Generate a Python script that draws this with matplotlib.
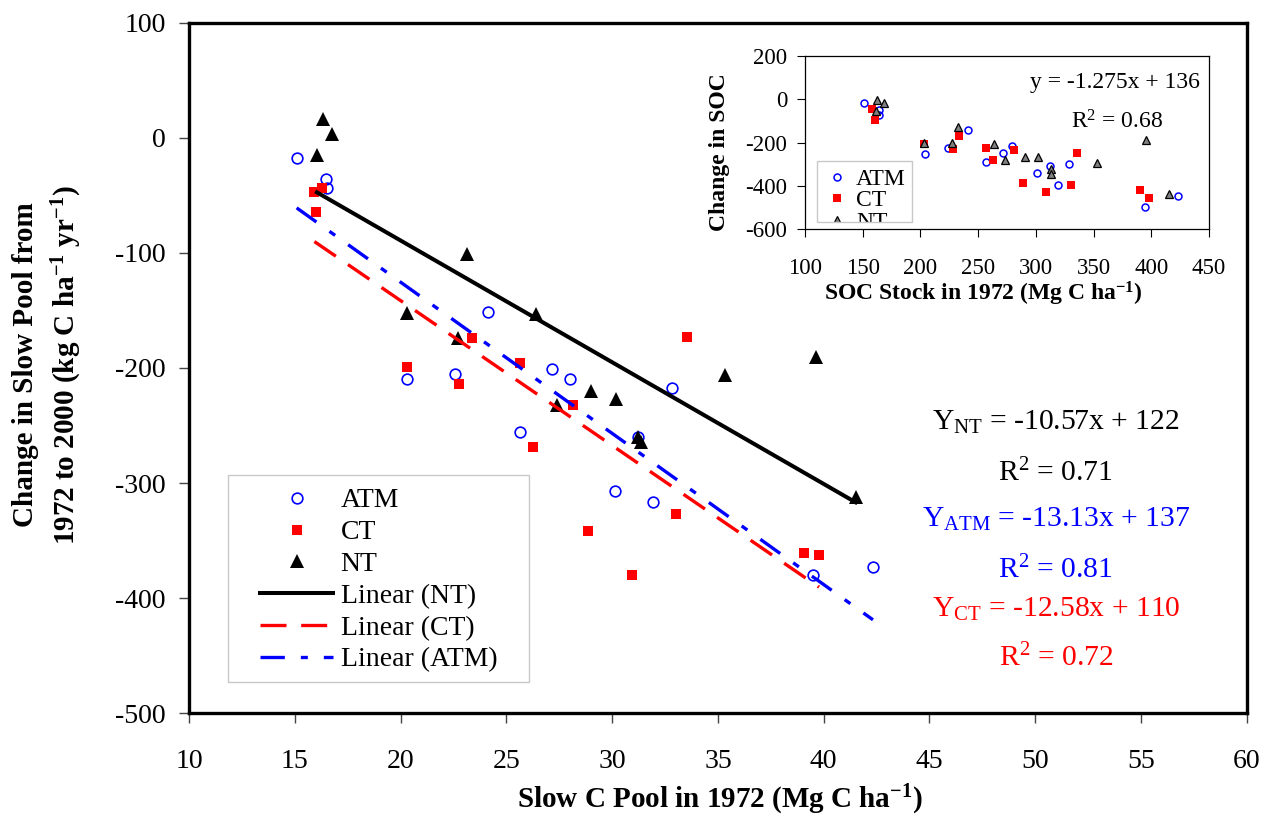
import numpy as np
import matplotlib
matplotlib.use('Agg')
import matplotlib.pyplot as plt
from matplotlib.patches import Rectangle
from matplotlib.transforms import Bbox, TransformedBbox

plt.rcParams['font.family'] = ['Liberation Serif', 'DejaVu Serif']
plt.rcParams['mathtext.fontset'] = 'custom'
plt.rcParams['mathtext.rm'] = 'Liberation Serif'
plt.rcParams['mathtext.bf'] = 'Liberation Serif:bold'
plt.rcParams['mathtext.it'] = 'Liberation Serif:italic'
plt.rcParams['axes.unicode_minus'] = False

# main panel: slow C pool in 1972 (Mg C/ha) vs change in slow pool (kg C/ha/yr)
atm_x = [15.08, 16.45, 16.50, 24.11, 20.31, 22.57, 27.17, 27.99, 25.64, 32.84,
         31.23, 30.13, 31.94, 39.49, 42.33]
atm_y = [-17.5, -35.7, -43.8, -151.2, -209.7, -205.6, -201.0, -209.4, -255.5, -217.8,
         -259.8, -306.9, -316.8, -379.9, -373.0]
ct_x = [15.92, 16.26, 16.00, 20.31, 23.36, 22.74, 25.64, 28.16, 26.27, 33.55,
        28.87, 30.95, 33.02, 39.07, 39.78]
ct_y = [-47.0, -44.0, -64.9, -199.0, -174.3, -214.3, -195.5, -232.5, -268.5, -172.9,
        -341.4, -379.9, -326.7, -360.8, -362.6]
nt_x = [16.04, 16.31, 16.77, 23.15, 20.28, 22.69, 26.40, 27.38, 29.00, 30.18,
        31.22, 31.36, 35.33, 39.64, 41.51]
nt_y = [-15.1, 15.9, 2.9, -101.4, -152.1, -174.1, -153.2, -232.3, -220.1, -226.8,
        -260.1, -264.5, -206.3, -190.6, -311.9]

# fitted trend lines as printed on the chart
fit_slope = {'NT': -10.57, 'ATM': -13.13, 'CT': -12.58}
fit_icept = {'NT': 122, 'ATM': 137, 'CT': 110}
eq_text = [r'Y$_{\mathrm{NT}}$ = -10.57x + 122', r'R$^{2}$ = 0.71',
           r'Y$_{\mathrm{ATM}}$ = -13.13x + 137', r'R$^{2}$ = 0.81',
           r'Y$_{\mathrm{CT}}$ = -12.58x + 110', r'R$^{2}$ = 0.72']
eq_color = ['black', 'black', 'blue', 'blue', 'red', 'red']

# inset: SOC stock in 1972 vs change in SOC
in_atm_x = [150.7, 163.7, 164.3, 203.6, 224.0, 241.3, 256.4, 271.3, 279.3, 300.7,
            312.4, 318.9, 328.8, 394.7, 423.1]
in_atm_y = [-17.2, -49.3, -70.7, -254.0, -226.8, -139.6, -289.5, -246.6, -217.6, -341.5,
            -306.3, -393.5, -298.6, -499.0, -445.5]
in_ct_x = [158.1, 160.6, 203.3, 228.6, 233.3, 256.4, 263.3, 281.2, 289.2, 309.0,
           330.7, 335.6, 390.0, 398.0]
in_ct_y = [-44.7, -95.2, -208.4, -228.3, -167.1, -226.8, -280.3, -235.9, -384.3, -428.7,
           -395.0, -246.6, -419.5, -456.2]
in_nt_x = [162.5, 168.3, 161.5, 202.7, 227.4, 232.3, 263.9, 273.5, 290.2, 301.6,
           313.3, 313.3, 352.9, 395.6, 415.4]
in_nt_y = [-3.0, -17.2, -55.4, -200.8, -200.8, -128.9, -208.4, -278.8, -266.5, -266.5,
           -323.1, -343.0, -294.0, -190.0, -434.8]

W, H = 1266, 819


def fx(px):
    return px / W


def fy(py):
    return 1 - py / H


fig = plt.figure(figsize=(W / 100, H / 100), dpi=100)
ax = fig.add_axes([fx(189.2), fy(713.3), (1246.7 - 189.2) / W, (713.3 - 22.5) / H])

ax.plot(atm_x, atm_y, 'o', ms=7.7, mfc='none', mec='blue', mew=1.2, label='ATM', zorder=3)
ax.plot(ct_x, ct_y, 's', ms=7.6, mfc='red', mec='red', mew=0, label='CT', zorder=3)
ax.plot(nt_x, nt_y, '^', ms=10, mfc='black', mec='black', mew=0, label='NT', zorder=3)

xs = np.array([min(nt_x), max(nt_x)])
ax.plot(xs, fit_slope['NT'] * xs + fit_icept['NT'], color='black', lw=2.9,
        label='Linear (NT)', zorder=4)
xs = np.array([min(ct_x), max(ct_x)])
ax.plot(xs, fit_slope['CT'] * xs + fit_icept['CT'], color='red', lw=2.4,
        ls=(0, (7.8, 4.4)), label='Linear (CT)', zorder=4)
xs = np.array([min(atm_x), max(atm_x)])
ax.plot(xs, fit_slope['ATM'] * xs + fit_icept['ATM'], color='blue', lw=2.4,
        ls=(0, (7.3, 4.8, 2.1, 4.8)), label='Linear (ATM)', zorder=4)

ax.set_xlim(10, 60)
ax.set_ylim(-500, 100)
ax.set_xticks(range(10, 61, 5))
ax.set_yticks(range(-500, 101, 100))
for s in ax.spines.values():
    s.set_linewidth(2.4)
ax.tick_params(axis='both', direction='out', length=7, width=1, color='#444444',
               labelsize=20)
ax.tick_params(axis='x', pad=19)
ax.tick_params(axis='y', pad=10)

# legend without its own frame; the frame is drawn as a plain rectangle
leg = ax.legend(loc='upper left', bbox_to_anchor=(fx(260), fy(488)),
                bbox_transform=fig.transFigure, fontsize=20, frameon=False,
                borderaxespad=0, borderpad=0, handlelength=2.63, handletextpad=0.27,
                labelspacing=0.23)
fig.patches.append(Rectangle((fx(228.3), fy(681.7)), (529.3 - 228.3) / W, (681.7 - 475) / H,
                             transform=fig.transFigure, fill=False, edgecolor='#c8c8c8',
                             lw=1, zorder=1))

fig.text(fx(48), fy(365), 'Change in Slow Pool from\n1972 to 2000 (kg C ha$^{\\mathbf{-1}}$ yr$^{\\mathbf{-1}}$)',
         rotation=90, ha='center', va='center', fontsize=21, fontweight='bold',
         linespacing=1.45)
fig.text(fx(719.5), fy(800), 'Slow C Pool in 1972 (Mg C ha$^{\\mathbf{-1}}$)',
         ha='center', va='center', fontsize=21, fontweight='bold')

eq_base = [430, 481.7, 526.7, 578.3, 616.7, 666.7]
for t, c, b in zip(eq_text, eq_color, eq_base):
    fig.text(fx(1055.8), fy(b), t, color=c, ha='center', va='baseline', fontsize=21.3)

# inset
axi = fig.add_axes([fx(805), fy(229.3), 404 / W, 173.3 / H])
axi.set_facecolor('white')
axi.plot(in_atm_x, in_atm_y, 'o', ms=5, mfc='none', mec='blue', mew=1.1, label='ATM')
axi.plot(in_ct_x, in_ct_y, 's', ms=5.2, mfc='red', mec='red', mew=0, label='CT')
axi.plot(in_nt_x, in_nt_y, '^', ms=6, mfc='#808080', mec='black', mew=0.9, label='NT')
axi.set_xlim(100, 450)
axi.set_ylim(-600, 200)
axi.set_xticks(range(100, 451, 50))
axi.set_yticks(range(-600, 201, 200))
for s in axi.spines.values():
    s.set_linewidth(0.9)
axi.tick_params(axis='both', direction='out', length=5.8, width=0.8, labelsize=16.5)
axi.tick_params(axis='x', pad=15)
axi.tick_params(axis='y', pad=7)

fig.text(fx(719), fy(152.5), 'Change in SOC', rotation=90, ha='center', va='center',
         fontsize=17, fontweight='bold')
fig.text(fx(983.5), fy(294), 'SOC Stock in 1972 (Mg C ha$^{\\mathbf{-1}}$)',
         ha='center', va='center', fontsize=17, fontweight='bold')
fig.text(fx(1200), fy(88.3), 'y = -1.275x + 136', ha='right', va='baseline', fontsize=17)
fig.text(fx(1117), fy(128.3), r'R$^{2}$ = 0.68', ha='center', va='baseline', fontsize=17)

# inset legend, cut off at the bottom like the original
lx0, ly0, lx1, ly1 = 817, 160.7, 912, 221.7
ileg = axi.legend(loc='upper left', bbox_to_anchor=(fx(lx0 + 5), fy(ly0 + 3)),
                  bbox_transform=fig.transFigure, fontsize=17, frameon=False,
                  borderaxespad=0, borderpad=0.2, handlelength=0.9, handletextpad=0.35,
                  labelspacing=0.0)
clip = TransformedBbox(Bbox.from_extents(fx(lx0), fy(ly1), fx(lx1), fy(ly0)), fig.transFigure)
for a in ileg.findobj():
    a.set_clip_box(clip)
    a.set_clip_on(True)
fig.patches.append(Rectangle((fx(lx0), fy(ly1)), (lx1 - lx0) / W, (ly1 - ly0) / H,
                             transform=fig.transFigure, fill=False, edgecolor='#c8c8c8',
                             lw=1, zorder=5))

plt.savefig('out.png', dpi=100)
plt.close(fig)
